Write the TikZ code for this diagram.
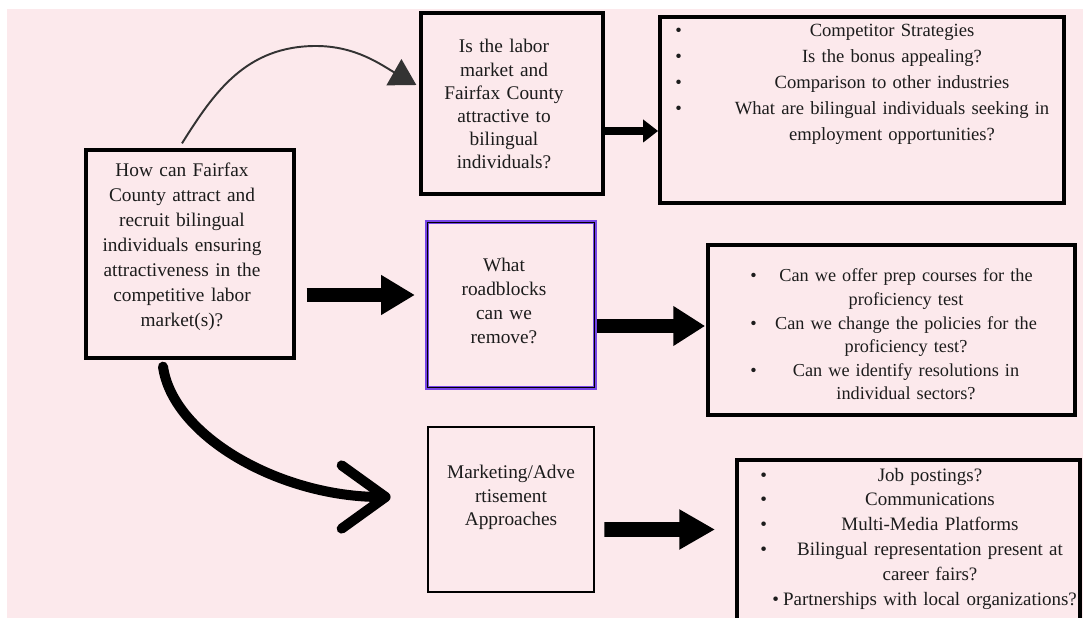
\documentclass[tikz,border=0pt]{standalone}
\usepackage{fontspec}
\setmainfont{Liberation Serif}
\usetikzlibrary{arrows.meta}

\definecolor{bgpink}{RGB}{252,233,236}
\definecolor{inkgray}{RGB}{28,28,28}
\definecolor{arcgray}{RGB}{51,51,51}
\definecolor{boxpurple}{RGB}{118,70,230}

\tikzset{
	box/.style={rectangle, draw=black, line width=1.9pt, fill=bgpink, inner sep=0pt},
	words/.style 2 args={text=inkgray, align=center, anchor=base, inner sep=0pt, font=\fontsize{#1}{#2}\selectfont},
	dots/.style 2 args={text=inkgray, text width=0.4cm, align=left, anchor=base west, inner sep=0pt, font=\fontsize{#1}{#2}\selectfont},
	fat/.style={line width=8.5pt},
}

\begin{document}
\begin{tikzpicture}[x=0.02cm, y=-0.02cm]
			\useasboundingbox (0,0) rectangle (1083,618);
			\clip (0,0) rectangle (1083,618);
			\fill[white] (0,0) rectangle (1083,618);
			\fill[bgpink] (7,9) rectangle (1083,618);

			% boxes
			\node (q)[box, minimum width=4.16cm, minimum height=4.16cm] at (190,254) {};
			\node (t1)[box, minimum width=3.64cm, minimum height=3.62cm] at (512,103.5) {};
			\node (t2)[box, draw=boxpurple, line width=2.4pt, minimum width=3.36cm, minimum height=3.32cm] at (511,305) {};
			\node (t3)[box, line width=1.6pt, minimum width=3.32cm, minimum height=3.3cm] at (511,509.5) {};
			\node (l1)[box, line width=2.2pt, minimum width=8.08cm, minimum height=3.72cm] at (862,110) {};
			\node (l2)[box, line width=2.2pt, minimum width=7.34cm, minimum height=3.4cm] at (891.5,330) {};
			\node (l3)[box, line width=2.2pt, minimum width=6.86cm, minimum height=3.6cm] at (908.5,550) {};
			\draw[line width=0.7pt] ([shift={(2.6,2.6)}]t2.north west) rectangle ([shift={(-2.6,-2.6)}]t2.south east);

			% texts
			\node (qtext)[words={11pt}{14.2pt}, text width=4cm] at (182,177) {How can Fairfax\\ County attract and\\ recruit bilingual\\ individuals ensuring\\ attractiveness in the\\ competitive labor\\ market(s)?};
			\node (t1text)[words={11pt}{13.2pt}, text width=3.4cm] at (504,53) {Is the labor\\ market and\\ Fairfax County\\ attractive to\\ bilingual\\ individuals?};
			\node (t2text)[words={11pt}{13.6pt}, text width=3.2cm] at (504,272) {What\\ roadblocks\\ can we\\ remove?};
			\node (t3text)[words={11pt}{13.1pt}, text width=3.2cm] at (511,479) {Marketing/Adve\\ rtisement\\ Approaches};

			\node (l1text)[words={10.6pt}{14.7pt}, text width=7cm] at (892,37) {Competitor Strategies\\ Is the bonus appealing?\\ Comparison to other industries\\ What are bilingual individuals seeking in\\ employment opportunities?};
			\node (l1dots)[dots={10.6pt}{14.7pt}] at (675,37) {\textbullet\\ \textbullet\\ \textbullet\\ \textbullet};
			\node (l2text)[words={10.4pt}{13.4pt}, text width=6cm] at (906,282) {Can we offer prep courses for the\\ proficiency test\\ Can we change the policies for the\\ proficiency test?\\ Can we identify resolutions in\\ individual sectors?};
			\node (l2dots)[dots={10.4pt}{13.4pt}] at (750,282) {\textbullet\\ \mbox{}\\ \textbullet\\ \mbox{}\\ \textbullet};
			\node (l3text)[words={10.8pt}{14.2pt}, text width=6.4cm] at (930,481) {Job postings?\\ Communications\\ Multi-Media Platforms\\ Bilingual representation present at\\ career fairs?\\ Partnerships with local organizations?};
			\node (l3dots)[dots={10.8pt}{14.2pt}] at (760,481) {\textbullet\\ \textbullet\\ \textbullet\\ \textbullet\\ \mbox{}\\ \hspace{0.24cm}\textbullet};

			% connectors
			\coordinate (top) at (316,46);
			\draw [arcgray, line width=1.1pt, -{Triangle[length=14.7pt, width=17pt]}]([shift={(-8,-5)}]q.north) .. controls +(32,-51) and +(-70,0) .. (top) .. controls +(40,0) and +(-35,-20) .. ([shift={(-3,-18.5)}]t1.west);
			\draw [line width=4.5pt, -{Triangle[length=8.5pt, width=12.5pt]}]([shift={(0,27.5)}]t1.east) -- ([shift={(0,21)}]l1.west);
			\draw [fat, -{Triangle[length=19.3pt, width=21.5pt]}]([shift={(11,41)}]q.east) -- ([shift={(-10,-10)}]t2.west);
			\draw [fat, -{Triangle[length=18.1pt, width=21.5pt]}]([shift={(0,21)}]t2.east) -- ([shift={(-1,-4)}]l2.west);
			\draw [fat, -{Triangle[length=20.4pt, width=21.5pt]}]([shift={(9,20)}]t3.east) -- ([shift={(-20,-20.5)}]l3.west);
			\draw [line width=5.7pt, line cap=round, -{Straight Barb[length=25pt, width=36pt, round]}]([shift={(-27,7)}]q.south) .. controls +(10,70) and +(-110,0) .. ([shift={(-36,-12.5)}]t3.west);
		\end{tikzpicture}
\end{document}
